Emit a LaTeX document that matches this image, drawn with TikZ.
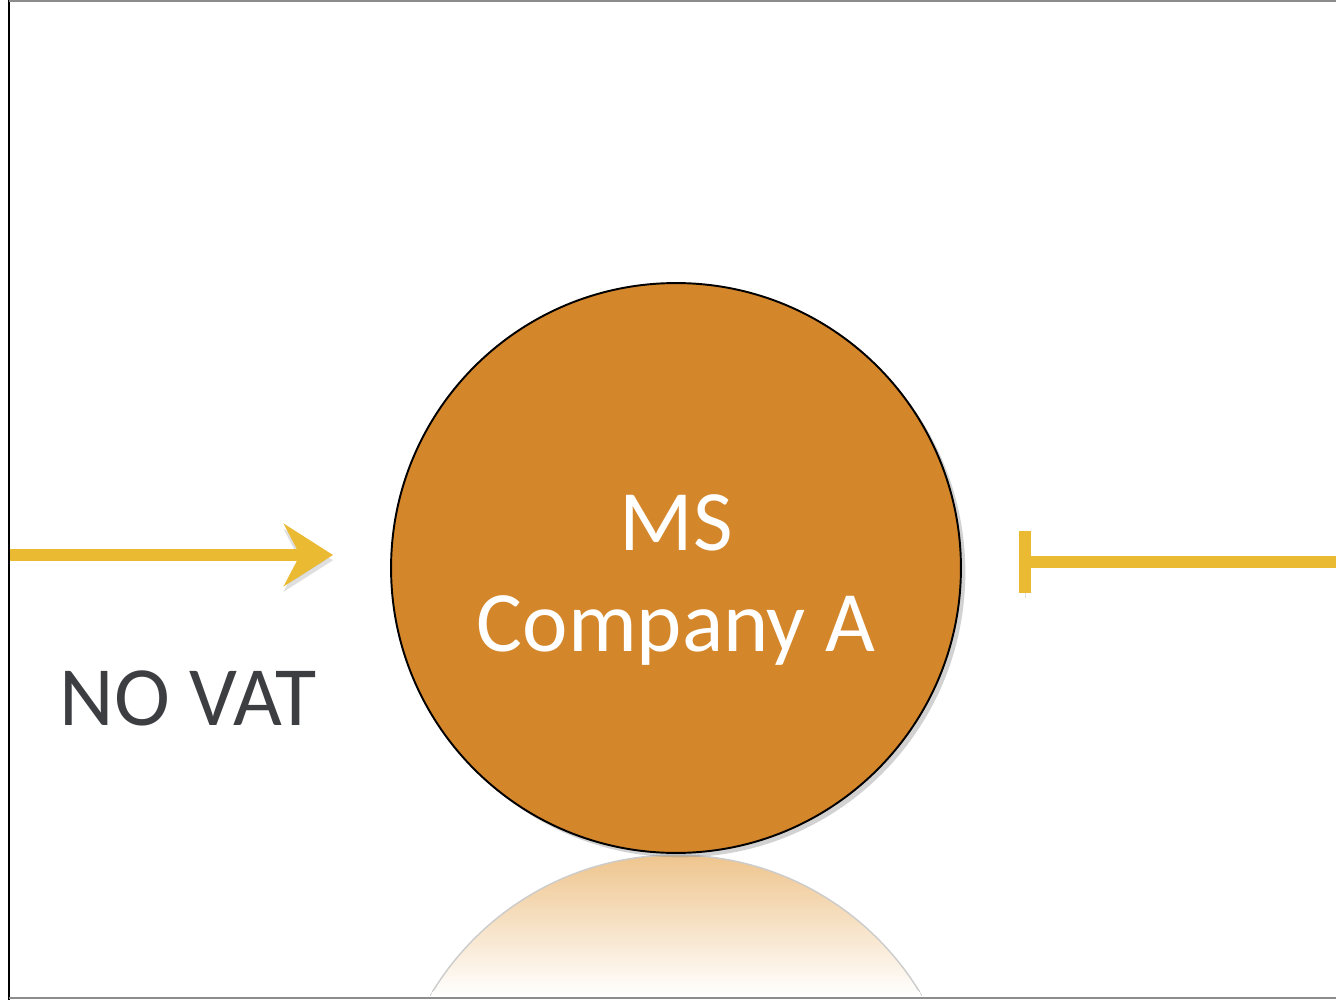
\documentclass[tikz,border=0pt]{standalone}
\usepackage{fontspec}
\setmainfont{Carlito}
\usetikzlibrary{
	arrows.meta,
	shadows,
	calc}

\definecolor{companyOrange}{HTML}{D4862A}
\definecolor{flowYellow}{HTML}{EBBA33}
\definecolor{vatGray}{HTML}{3C3E42}
\definecolor{mirrorTop}{HTML}{EEC48C}

\begin{document}
\begin{tikzpicture}[x=0.02cm,y=-0.02cm,
    company/.style={circle,draw=black,line width=1.1pt,fill=companyOrange,
      minimum size=11.4cm,inner sep=0pt,
      drop shadow={shadow xshift=2.5pt,shadow yshift=-2.5pt,opacity=0.35}},
    companyname/.style={text=white,align=center,inner sep=0pt,
      font=\fontsize{49}{57}\selectfont},
    flow/.style={flowYellow,line width=7pt,
      preaction={draw=black!35,opacity=0.35,transform canvas={yshift=-3pt}}},
    vatlabel/.style={text=vatGray,font=\fontsize{48}{56}\selectfont,inner sep=0pt}]
      \useasboundingbox (0,0) rectangle (1336,1000);
      \fill[white] (0,0) rectangle (1336,1000);

      % frame of the slide
      \draw[black,line width=1.6pt] (9,0) -- (9,1000);
      \draw[black!45,line width=1.1pt] (9,1) -- (1336,1);
      \draw[black!45,line width=1.1pt] (9,998) -- (1336,998);

      % mirror image under the circle
      \begin{scope}
        \clip (0,853) rectangle (1336,996);
        \clip (676,1140) circle (285);
        \fill[top color=mirrorTop,bottom color=white] (380,853) rectangle (972,996);
      \end{scope}
      \begin{scope}
        \clip (0,853) rectangle (1336,990);
        \draw[black!20,line width=0.8pt] (676,1140) circle (285);
      \end{scope}

      \node[company] (compA) at (676,568) {};
      \node[companyname] (compName) at (676,580) {MS\\Company A};

      \node[vatlabel] (noVat) at (188,698) {NO VAT};

      \coordinate (inStart)  at (10,555);
      \coordinate (inTip)    at (333,555);
      \coordinate (outStart) at (1336,562);
      \coordinate (outEnd)   at (1019,562);

      \draw [flow,-{Stealth[length=0.98cm,width=1.24cm,inset=0.32cm]}] (inStart) to (inTip);
      \draw [flow,-{Bar[width=1.24cm]}] (outStart) to (outEnd);
  \end{tikzpicture}
\end{document}
